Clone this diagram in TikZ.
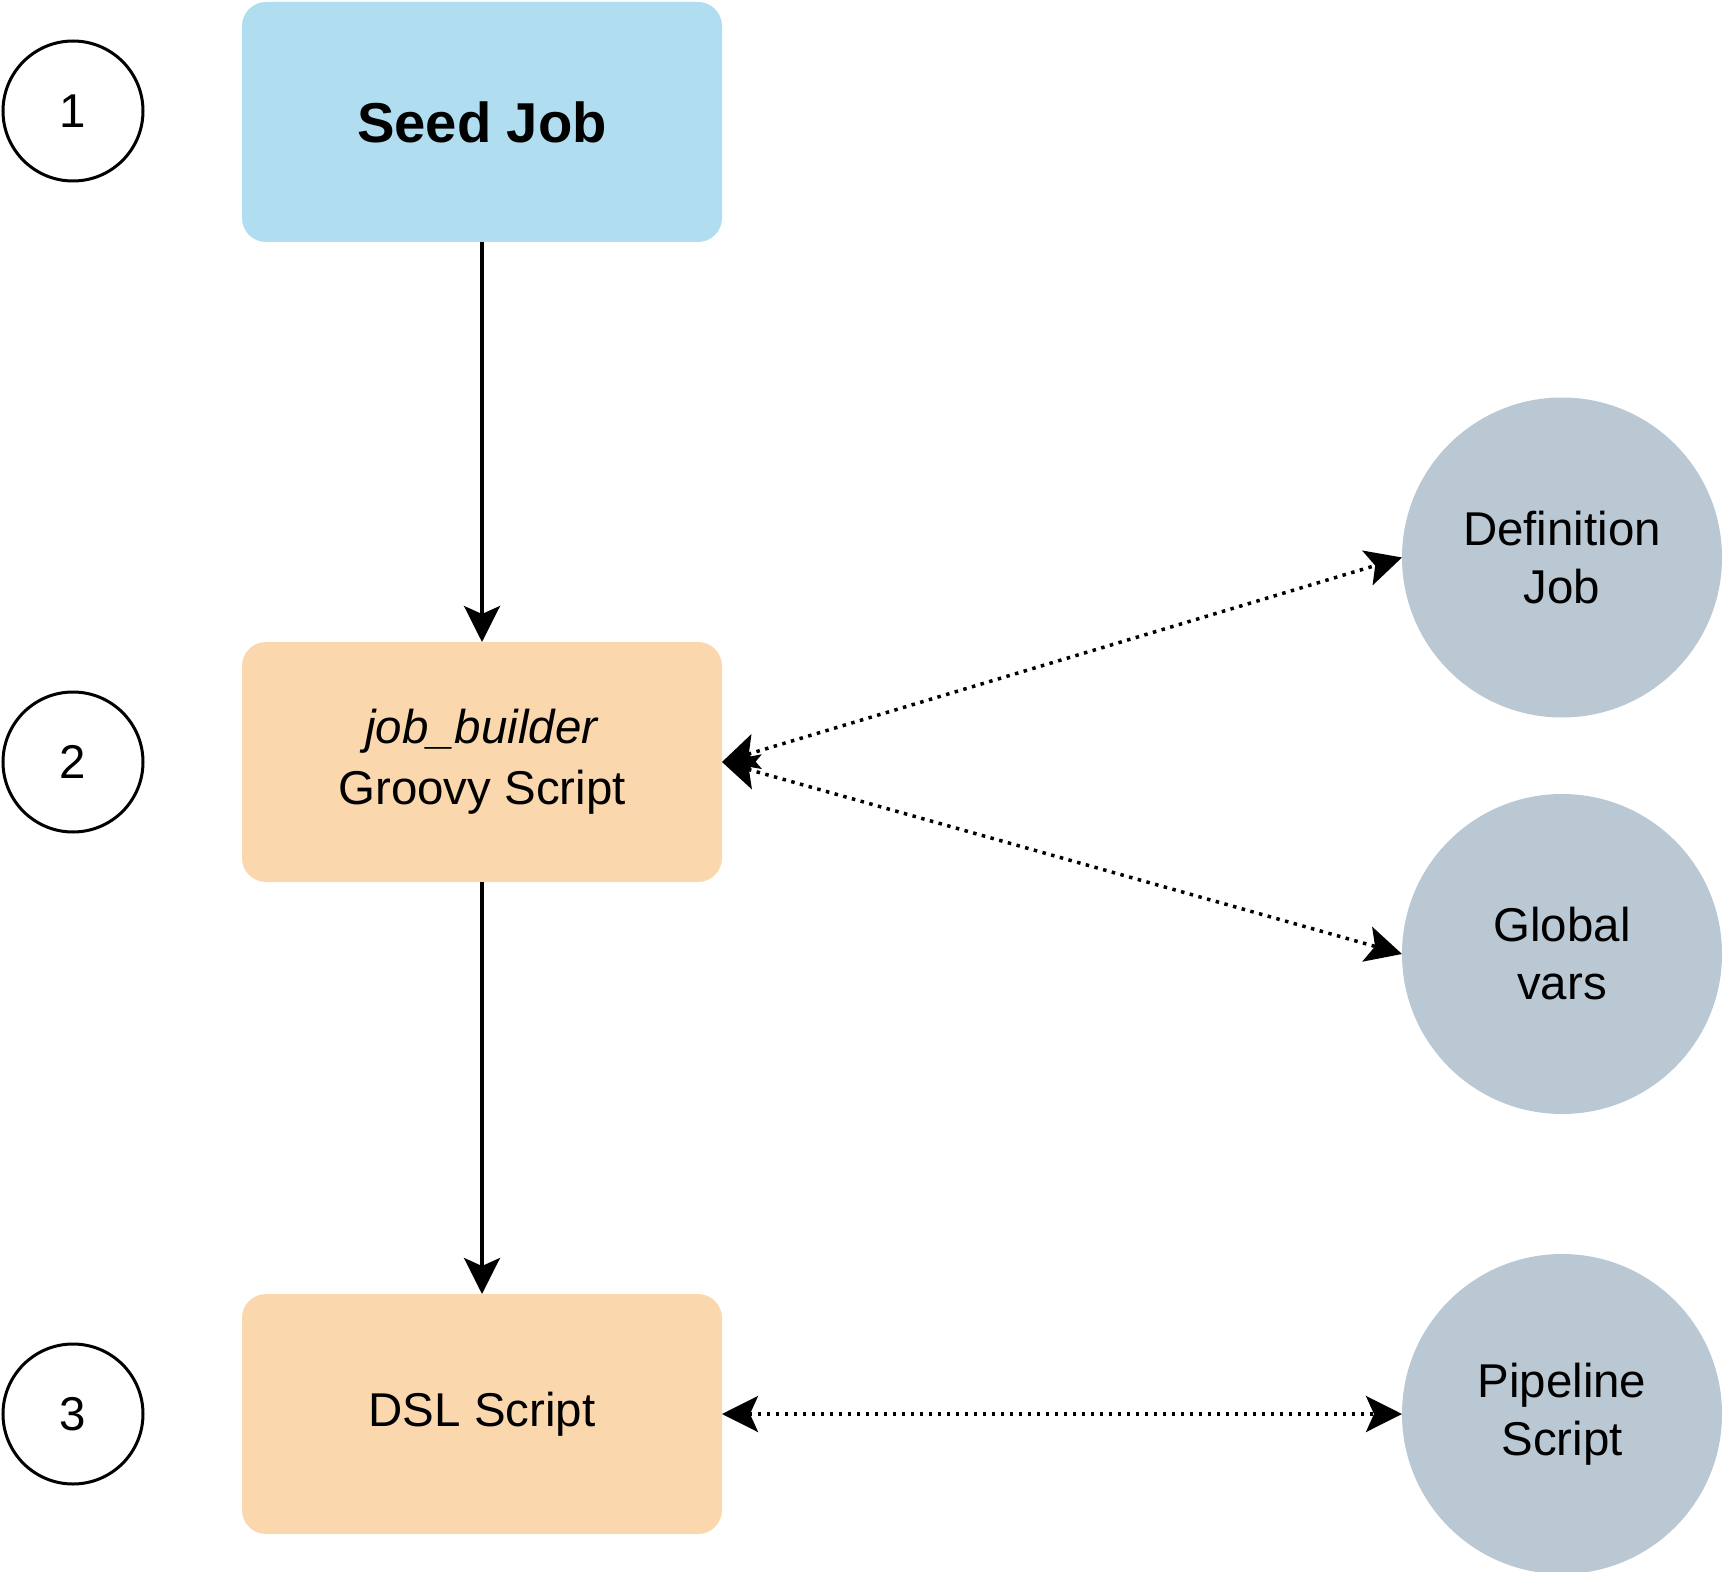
\documentclass[tikz,border=0pt]{standalone}
\usepackage{fontspec}
\setmainfont{Liberation Sans}
\usetikzlibrary{arrows.meta, positioning}

\definecolor{seedblue}{HTML}{B1DDF0}
\definecolor{scriptorange}{HTML}{FAD7AC}
\definecolor{srcgray}{HTML}{BAC8D3}

\begin{document}
\begin{tikzpicture}[
    node distance=8cm and 2cm,
    outer sep=0pt,
    arr/.style={-{Stealth[length=0.72cm, width=0.72cm, inset=0.16cm]}, line width=0.07cm},
    dotarr/.style={{Stealth[length=0.72cm, width=0.72cm, inset=0.16cm]}-{Stealth[length=0.72cm, width=0.72cm, inset=0.16cm]}, line width=0.07cm, dash pattern=on 0.07cm off 0.11cm},
    jobbox/.style={rectangle, rounded corners=0.48cm, minimum width=9.6cm, minimum height=4.8cm, align=center, font=\fontsize{27}{34.5}\selectfont},
    numcirc/.style={circle, draw, line width=0.06cm, minimum size=2.8cm, font=\fontsize{27}{33}\selectfont},
    srccirc/.style={circle, fill=srcgray, minimum size=6.4cm, align=center, font=\fontsize{27}{33}\selectfont},
]

    \useasboundingbox (0,0) rectangle (34.48,-31.44);

    \node[jobbox, fill=seedblue, font=\fontsize{32}{38}\selectfont\bfseries] (seed) at (9.64,-2.44) {Seed Job};
    \node[jobbox, fill=scriptorange, below=8cm of seed] (groovy) {\textit{job\_builder}\\Groovy Script};
    \node[jobbox, fill=scriptorange, below=8.24cm of groovy] (dsl) {DSL Script};

    \node[numcirc, left=1.98cm of seed, yshift=0.22cm] (n1) {1};
    \node[numcirc, left=1.98cm of groovy] (n2) {2};
    \node[numcirc, left=1.98cm of dsl] (n3) {3};

    \node[srccirc, right=13.6cm of groovy, yshift=4.09cm] (defjob) {Definition\\Job};
    \node[srccirc, right=13.6cm of groovy, yshift=-3.84cm] (globvars) {Global\\vars};
    \node[srccirc, right=13.6cm of dsl] (pipeline) {Pipeline\\Script};

    \draw[arr] (seed.south) -- (groovy.north);
    \draw[arr] (groovy.south) -- (dsl.north);

    \draw[dotarr] (groovy.east) -- (defjob.west);
    \draw[dotarr] (groovy.east) -- (globvars.west);
    \draw[dotarr] (dsl.east) -- (pipeline.west);

\end{tikzpicture}
\end{document}
